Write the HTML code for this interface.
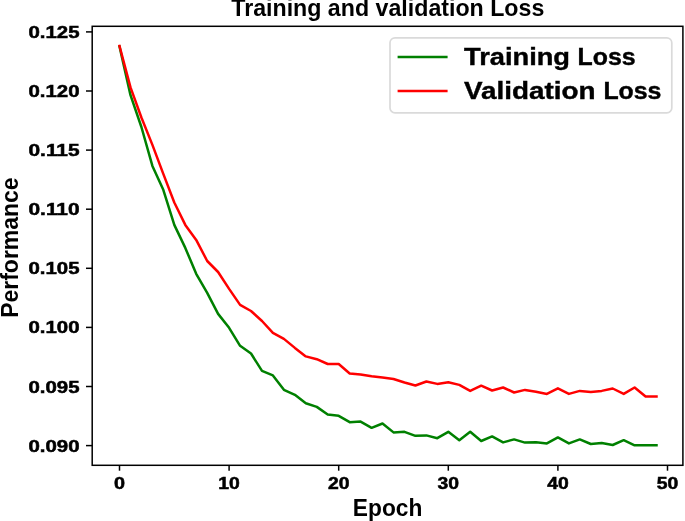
<!DOCTYPE html>
<html><head><meta charset="utf-8"><style>
html,body{margin:0;padding:0;background:#fff;}
body{width:685px;height:521px;overflow:hidden;}
svg{display:block;will-change:transform;}
text{font-family:"Liberation Sans",sans-serif;font-weight:bold;fill:#000;}
.tl{font-size:16px;stroke:#000;stroke-width:0.5px;}
.lg{stroke:#000;stroke-width:0.4px;}
.tk{stroke:#000;stroke-width:1.5;}
</style></head><body>
<svg width="685" height="521" viewBox="0 0 685 521">
<rect x="0" y="0" width="685" height="521" fill="#fff"/>
<text x="387.8" y="16.3" font-size="23.2" text-anchor="middle">Training and validation Loss</text>
<polyline points="119.5,46.5 130.5,95.2 141.4,127.0 152.4,165.9 163.3,189.8 174.3,224.9 185.3,247.9 196.2,273.8 207.2,292.9 218.1,313.9 229.1,327.8 240.1,345.8 251.0,353.5 262.0,370.9 272.9,375.4 283.9,389.8 294.9,394.8 305.8,403.2 316.8,406.9 327.7,414.5 338.7,415.8 349.7,422.2 360.6,421.6 371.6,427.8 382.5,423.5 393.5,432.4 404.5,431.8 415.4,435.8 426.4,435.4 437.3,438.2 448.3,431.8 459.3,440.2 470.2,431.8 481.2,441.0 492.1,436.4 503.1,442.4 514.1,439.4 525.0,442.6 536.0,442.2 546.9,443.4 557.9,437.4 568.9,443.4 579.8,439.4 590.8,444.0 601.7,443.0 612.7,445.0 623.7,440.2 634.6,445.3 645.6,445.3 656.5,445.3" fill="none" stroke="#008000" stroke-width="2.5" stroke-linejoin="round" stroke-linecap="square"/>
<polyline points="119.5,46.0 130.5,87.4 141.4,117.5 152.4,144.9 163.3,173.9 174.3,202.5 185.3,224.9 196.2,239.9 207.2,261.0 218.1,272.0 229.1,288.9 240.1,304.9 251.0,311.0 262.0,321.0 272.9,332.9 283.9,338.9 294.9,347.9 305.8,356.4 316.8,359.2 327.7,364.0 338.7,364.0 349.7,373.5 360.6,374.4 371.6,376.3 382.5,377.5 393.5,379.0 404.5,382.5 415.4,385.5 426.4,381.5 437.3,383.9 448.3,382.3 459.3,384.9 470.2,390.9 481.2,385.7 492.1,390.5 503.1,387.5 514.1,392.5 525.0,389.9 536.0,391.7 546.9,393.9 557.9,388.3 568.9,393.9 579.8,390.9 590.8,391.9 601.7,390.9 612.7,388.5 623.7,393.9 634.6,387.5 645.6,396.5 656.5,396.5" fill="none" stroke="#ff0000" stroke-width="2.5" stroke-linejoin="round" stroke-linecap="square"/>
<rect x="92.2" y="26.3" width="590.7" height="439.0" fill="none" stroke="#000" stroke-width="1.5" stroke-linejoin="miter"/>
<line x1="86" y1="31.9" x2="92.2" y2="31.9" class="tk"/>
<text x="79.5" y="37.9" class="tl" text-anchor="end" textLength="51" lengthAdjust="spacingAndGlyphs">0.125</text>
<line x1="86" y1="91.0" x2="92.2" y2="91.0" class="tk"/>
<text x="79.5" y="97.0" class="tl" text-anchor="end" textLength="51" lengthAdjust="spacingAndGlyphs">0.120</text>
<line x1="86" y1="150.1" x2="92.2" y2="150.1" class="tk"/>
<text x="79.5" y="156.1" class="tl" text-anchor="end" textLength="51" lengthAdjust="spacingAndGlyphs">0.115</text>
<line x1="86" y1="209.2" x2="92.2" y2="209.2" class="tk"/>
<text x="79.5" y="215.2" class="tl" text-anchor="end" textLength="51" lengthAdjust="spacingAndGlyphs">0.110</text>
<line x1="86" y1="268.3" x2="92.2" y2="268.3" class="tk"/>
<text x="79.5" y="274.3" class="tl" text-anchor="end" textLength="51" lengthAdjust="spacingAndGlyphs">0.105</text>
<line x1="86" y1="327.4" x2="92.2" y2="327.4" class="tk"/>
<text x="79.5" y="333.4" class="tl" text-anchor="end" textLength="51" lengthAdjust="spacingAndGlyphs">0.100</text>
<line x1="86" y1="386.5" x2="92.2" y2="386.5" class="tk"/>
<text x="79.5" y="392.5" class="tl" text-anchor="end" textLength="51" lengthAdjust="spacingAndGlyphs">0.095</text>
<line x1="86" y1="445.6" x2="92.2" y2="445.6" class="tk"/>
<text x="79.5" y="451.6" class="tl" text-anchor="end" textLength="51" lengthAdjust="spacingAndGlyphs">0.090</text>
<line x1="119.5" y1="465.3" x2="119.5" y2="470.7" class="tk"/>
<text x="119.5" y="489.0" class="tl" text-anchor="middle" textLength="11.0" lengthAdjust="spacingAndGlyphs">0</text>
<line x1="229.1" y1="465.3" x2="229.1" y2="470.7" class="tk"/>
<text x="229.1" y="489.0" class="tl" text-anchor="middle" textLength="21.5" lengthAdjust="spacingAndGlyphs">10</text>
<line x1="338.7" y1="465.3" x2="338.7" y2="470.7" class="tk"/>
<text x="338.7" y="489.0" class="tl" text-anchor="middle" textLength="21.5" lengthAdjust="spacingAndGlyphs">20</text>
<line x1="448.3" y1="465.3" x2="448.3" y2="470.7" class="tk"/>
<text x="448.3" y="489.0" class="tl" text-anchor="middle" textLength="21.5" lengthAdjust="spacingAndGlyphs">30</text>
<line x1="557.9" y1="465.3" x2="557.9" y2="470.7" class="tk"/>
<text x="557.9" y="489.0" class="tl" text-anchor="middle" textLength="21.5" lengthAdjust="spacingAndGlyphs">40</text>
<line x1="667.5" y1="465.3" x2="667.5" y2="470.7" class="tk"/>
<text x="667.5" y="489.0" class="tl" text-anchor="middle" textLength="21.5" lengthAdjust="spacingAndGlyphs">50</text>

<rect x="390" y="37.8" width="281.8" height="75.1" rx="5" ry="5" fill="#fff" fill-opacity="0.8" stroke="#dadada" stroke-width="1.7"/>
<line x1="397.6" y1="56.9" x2="447.6" y2="56.9" stroke="#008000" stroke-width="2.5"/>
<line x1="397.6" y1="91.0" x2="447.6" y2="91.0" stroke="#ff0000" stroke-width="2.5"/>
<text x="464" y="64.5" font-size="24.6" class="lg" textLength="106" lengthAdjust="spacingAndGlyphs">Training</text><text x="577.6" y="64.5" font-size="24.6" class="lg" textLength="58" lengthAdjust="spacingAndGlyphs">Loss</text>
<text x="464" y="98.6" font-size="24.6" class="lg" textLength="131.6" lengthAdjust="spacingAndGlyphs">Validation</text><text x="603.4" y="98.6" font-size="24.6" class="lg" textLength="58" lengthAdjust="spacingAndGlyphs">Loss</text>
<text x="387.6" y="516.3" font-size="24" text-anchor="middle" textLength="69.5" lengthAdjust="spacingAndGlyphs">Epoch</text>
<text transform="translate(18.0,247.6) rotate(-90)" x="0" y="0" font-size="23" text-anchor="middle" textLength="140.5" lengthAdjust="spacingAndGlyphs">Performance</text>
</svg>
</body></html>
